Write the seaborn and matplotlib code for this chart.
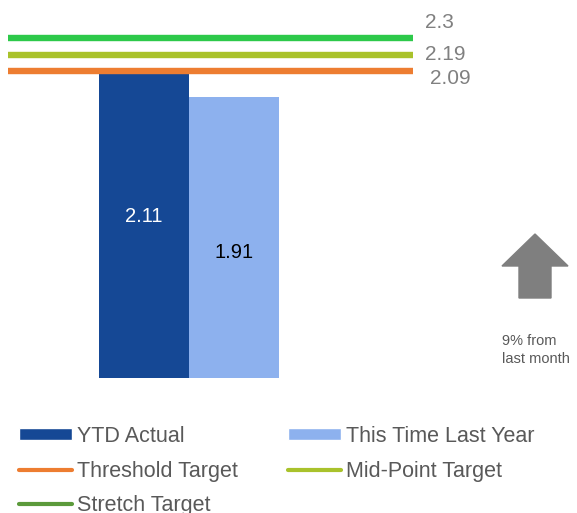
import matplotlib
matplotlib.use("Agg")
import matplotlib.pyplot as plt
import seaborn as sns
from matplotlib.patches import Patch, FancyArrow
from matplotlib.lines import Line2D

categories = ["YTD Actual", "This Time Last Year"]
values = [2.11, 1.91]
bar_colors = ["#154895", "#8db1ee"]

target_names = ["Stretch Target", "Mid-Point Target", "Threshold Target"]
target_values = [2.3, 2.19, 2.09]
target_labels = ["2.3", "2.19", "2.09"]
target_colors = ["#2dc94a", "#a9c22b", "#ed7d31"]
legend_stretch_color = "#5b9a3b"

change_text = "9% from\nlast month"

sns.set_theme(style="white")
plt.rcParams["font.family"] = ["Liberation Sans", "DejaVu Sans"]

W, H = 577, 513
fig = plt.figure(figsize=(W / 100, H / 100), dpi=100)
rect = [8 / W, 1 - 378 / H, (413 - 8) / W, (378 - 10) / H]
ax = fig.add_axes(rect)

sns.barplot(x=categories, y=values, hue=categories, palette=bar_colors,
            width=1.0, legend=False, ax=ax, saturation=1, linewidth=0, zorder=1)
ax.set_xlim(-1.511, 2.989)
ax.set_ylim(0, 368 / 147)
for s in ax.spines.values():
    s.set_visible(False)
ax.set_xticks([])
ax.set_yticks([])
ax.set_xlabel("")
ax.set_ylabel("")

# target lines on a secondary scale
ax2 = ax.twinx()
sc = 160.0
ax2.set_ylim(2.09 - (378 - 71.5) / sc, 2.09 + (71.5 - 10) / sc)
for s in ax2.spines.values():
    s.set_visible(False)
ax2.set_yticks([])
for v, c in zip(target_values, target_colors):
    ax2.axhline(v, color=c, lw=4.6, zorder=3, solid_capstyle="butt")

# target value labels on the right
label_offsets = [(425, 22), (425, 54), (430, 78)]
for (px, py), t in zip(label_offsets, target_labels):
    fig.text(px / W, 1 - py / H, t, fontsize=15, color="#808080",
             ha="left", va="center")

# bar value labels
ax.text(0, (378 - 216) / 147, "2.11", color="white", fontsize=14.5,
        ha="center", va="center", zorder=4)
ax.text(1, (378 - 253) / 147, "1.91", color="black", fontsize=14.5,
        ha="center", va="center", zorder=4)

# arrow
arr = FancyArrow(535 / W, 1 - 298 / H, 0, (298 - 234) / H, width=32 / W,
                 head_width=66 / W, head_length=32 / H, length_includes_head=True,
                 color="#7f7f7f", transform=fig.transFigure, figure=fig)
fig.patches.append(arr)
fig.text(502 / W, 1 - 350 / H, change_text, fontsize=10.5, color="#595959",
         ha="left", va="center", linespacing=1.4)

# legend
h_ytd = Patch(facecolor=bar_colors[0], label=categories[0])
h_ttly = Patch(facecolor=bar_colors[1], label=categories[1])
h_thr = Line2D([], [], color=target_colors[2], lw=3, label=target_names[2])
h_mid = Line2D([], [], color=target_colors[1], lw=3, label=target_names[1])
h_str = Line2D([], [], color=legend_stretch_color, lw=3, label=target_names[0])
handles = [h_ytd, h_thr, h_str, h_ttly, h_mid]
fig.legend(handles=handles, loc="upper left", bbox_to_anchor=(19 / W, 1 - 426 / H),
           ncol=2, frameon=False, fontsize=15.5, handlelength=2.45, handleheight=0.5,
           handletextpad=0.23, columnspacing=2.34, labelspacing=0.63,
           borderpad=0, borderaxespad=0, labelcolor="#595959")

fig.savefig("out.png", dpi=100)
